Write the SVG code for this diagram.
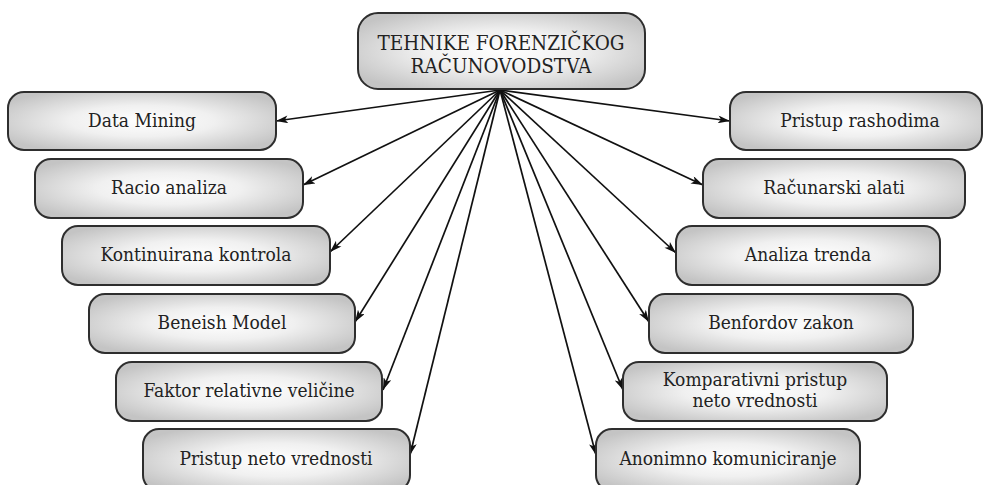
<svg xmlns="http://www.w3.org/2000/svg" width="983" height="485" viewBox="0 0 983 485">
<defs>
<radialGradient id="g" cx="0.5" cy="0.5" r="0.6">
<stop offset="0" stop-color="#ffffff"/>
<stop offset="0.45" stop-color="#f0f0f0"/>
<stop offset="1" stop-color="#c4c4c4"/>
</radialGradient>
<marker id="ah" viewBox="0 0 12 8" refX="12" refY="4" markerWidth="13" markerHeight="8" markerUnits="userSpaceOnUse" orient="auto">
<path d="M0,0 L12,4 L0,8 L3,4 z" fill="#111"/>
</marker>
</defs>
<style>
rect.b{fill:url(#g);stroke:#2e2e2e;stroke-width:2}
text{font-family:'DejaVu Serif Condensed','DejaVu Serif',serif;font-size:19px;fill:#222;text-anchor:middle}
text.t{font-size:20.5px}
.c line{stroke:#111;stroke-width:1.7;marker-end:url(#ah)}
</style>
<g class="c" id="connectors">
<line x1="500" y1="90" x2="276" y2="121"/>
<line x1="500" y1="90" x2="303" y2="185"/>
<line x1="500" y1="90" x2="330" y2="252"/>
<line x1="500" y1="90" x2="355" y2="322"/>
<line x1="500" y1="90" x2="383" y2="390"/>
<line x1="500" y1="90" x2="410" y2="455"/>
<line x1="500" y1="90" x2="730" y2="121"/>
<line x1="500" y1="90" x2="703" y2="185"/>
<line x1="500" y1="90" x2="676" y2="253"/>
<line x1="500" y1="90" x2="649" y2="322"/>
<line x1="500" y1="90" x2="623" y2="390"/>
<line x1="500" y1="90" x2="596" y2="455"/>
</g>
<g id="center"><rect class="b" x="358" y="13" width="287" height="76" rx="20"/><text class="t" x="501" y="50">TEHNIKE FORENZIČKOG</text><text class="t" x="501" y="73">RAČUNOVODSTVA</text></g>
<g id="n-data-mining"><rect class="b" x="8" y="92" width="268" height="58" rx="16"/><text x="142" y="127">Data Mining</text></g>
<g id="n-racio"><rect class="b" x="35" y="159" width="268" height="59" rx="16"/><text x="169" y="194">Racio analiza</text></g>
<g id="n-kontinuirana"><rect class="b" x="62" y="226" width="268" height="59" rx="16"/><text x="196" y="261">Kontinuirana kontrola</text></g>
<g id="n-beneish"><rect class="b" x="89" y="294" width="266" height="59" rx="16"/><text x="222" y="329">Beneish Model</text></g>
<g id="n-faktor"><rect class="b" x="116" y="362" width="266" height="59" rx="16"/><text x="249" y="397">Faktor relativne veličine</text></g>
<g id="n-pristup-neto"><rect class="b" x="143" y="429" width="267" height="62" rx="16"/><text x="276" y="465">Pristup neto vrednosti</text></g>
<g id="n-rashodi"><rect class="b" x="730" y="92" width="252" height="58" rx="16"/><text x="860" y="127">Pristup rashodima</text></g>
<g id="n-racunarski"><rect class="b" x="703" y="159" width="262" height="59" rx="16"/><text x="834" y="194">Računarski alati</text></g>
<g id="n-trend"><rect class="b" x="676" y="226" width="264" height="59" rx="16"/><text x="808" y="261">Analiza trenda</text></g>
<g id="n-benford"><rect class="b" x="649" y="294" width="264" height="59" rx="16"/><text x="781" y="329">Benfordov zakon</text></g>
<g id="n-komparativni"><rect class="b" x="623" y="362" width="264" height="59" rx="16"/><text x="755" y="386">Komparativni pristup</text><text x="755" y="407">neto vrednosti</text></g>
<g id="n-anonimno"><rect class="b" x="596" y="429" width="264" height="62" rx="16"/><text x="728" y="465">Anonimno komuniciranje</text></g>
</svg>
